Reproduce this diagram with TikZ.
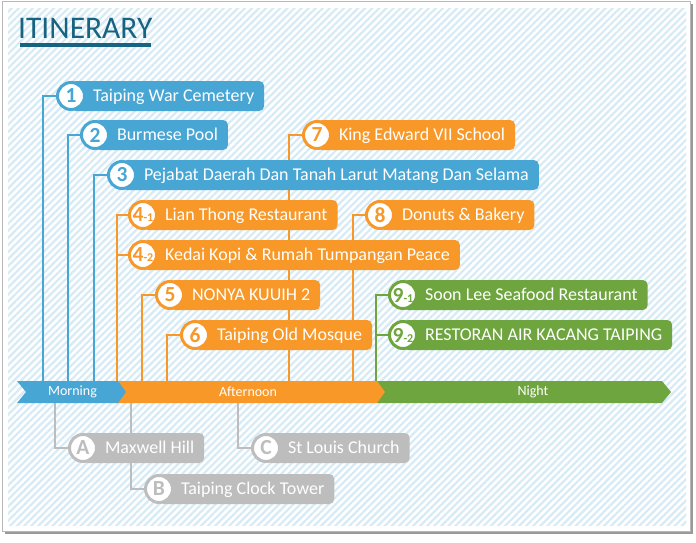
\documentclass[tikz,border=0pt]{standalone}
\usepackage{fontspec}
\setmainfont{Carlito}
\usetikzlibrary{patterns.meta}
\definecolor{cblue}{RGB}{72,166,213}
\definecolor{corange}{RGB}{247,152,41}
\definecolor{cgreen}{RGB}{110,165,62}
\definecolor{cgray}{RGB}{189,189,189}
\definecolor{ctitle}{RGB}{24,98,130}
\definecolor{chatch}{RGB}{214,235,246}
\pgfdeclarelayer{back}
\pgfdeclarelayer{links}
\pgfsetlayers{back,links,main}
\newcommand\mkitem[5]{%
  \node[itembox=#3] (b#1) at #2 {\hspace*{22pt}#5\hspace*{10pt}};
  \node[numcirc=#3] (c#1) at #2 {#4};
}
\newcommand\subn[2]{#1\fontsize{12}{12}\selectfont -#2}
\begin{document}
\begin{tikzpicture}[x=1pt,y=-1pt,
  itembox/.style={anchor=west, fill=#1, rounded corners=5pt, minimum height=30pt,
    inner xsep=0pt, inner ysep=0pt, outer sep=0pt, text=white,
    text height=14pt, text depth=3pt, font=\fontsize{18}{20}\selectfont},
  numcirc/.style={circle, fill=white, draw=#1, line width=3pt, minimum size=27pt,
    inner sep=0pt, text=#1, font=\fontsize{21.5}{21}\selectfont\bfseries},
  lk/.style={draw=#1, line width=2pt},
  tl/.style={text=white, font=\fontsize{14}{16}\selectfont, inner sep=0pt}]
\useasboundingbox (0,0) rectangle (696,543);
\begin{pgfonlayer}{back}
  \fill[black!40] (5,4.5) rectangle (693,534);
  \filldraw[fill=white,draw=black!28,line width=1pt] (2.5,1.5) rectangle (690.5,531.5);
  \fill[pattern={Lines[angle=45,distance=5pt,line width=2.2pt]},pattern color=chatch] (8,9) rectangle (686,525);
\end{pgfonlayer}

% title
\node[anchor=base west, inner sep=0pt, text=ctitle, font=\fontsize{31.5}{31}\selectfont] (title) at (18,39) {ITINERARY};
\draw[ctitle, line width=4pt] (20,45.5) -- (151,45.5);

% timeline
\fill[cgreen] (377,381) -- (662,381) -- (671,392) -- (662,403) -- (377,403) -- cycle;
\fill[corange] (117,381) -- (377,381) -- (385,392) -- (377,403) -- (117,403) -- cycle;
\fill[cblue] (17,381) -- (118,381) -- (126,392) -- (118,403) -- (17,403) -- (26,392) -- cycle;
\node[tl] (morning) at (72.5,392) {Morning};
\node[tl] (afternoon) at (248,392) {Afternoon};
\node[tl] (night) at (533,392) {Night};

% timeline anchor points
\coordinate (m1) at (43,381);
\coordinate (m2) at (68,381);
\coordinate (m3) at (94,381);
\coordinate (a4) at (117,381);
\coordinate (a5) at (142,381);
\coordinate (a6) at (167,381);
\coordinate (a7) at (289,381);
\coordinate (a8) at (353,381);
\coordinate (n9) at (376,381);
\coordinate (gA) at (55,403);
\coordinate (gB) at (131,403);
\coordinate (gC) at (238,403);

% items
\mkitem{1}{(71,96)}{cblue}{1}{Taiping War Cemetery}
\mkitem{2}{(95,135)}{cblue}{2}{Burmese Pool}
\mkitem{7}{(317,135)}{corange}{7}{King Edward VII School}
\mkitem{3}{(122,175)}{cblue}{3}{Pejabat Daerah Dan Tanah Larut Matang Dan Selama}
\mkitem{41}{(143,215)}{corange}{\subn{4}{1}}{Lian Thong Restaurant}
\mkitem{8}{(380,215)}{corange}{8}{Donuts \& Bakery}
\mkitem{42}{(143,255)}{corange}{\subn{4}{2}}{Kedai Kopi \& Rumah Tumpangan Peace}
\mkitem{5}{(170,295)}{corange}{5}{NONYA KUUIH 2}
\mkitem{91}{(403,295)}{cgreen}{\subn{9}{1}}{Soon Lee Seafood Restaurant}
\mkitem{6}{(195,335)}{corange}{6}{Taiping Old Mosque}
\mkitem{92}{(403,335)}{cgreen}{\subn{9}{2}}{RESTORAN AIR KACANG TAIPING}
\mkitem{A}{(83,448)}{cgray}{A}{Maxwell Hill}
\mkitem{C}{(266,448)}{cgray}{C}{St Louis Church}
\mkitem{B}{(159,489)}{cgray}{B}{Taiping Clock Tower}

% connectors
\begin{pgfonlayer}{links}
  \draw[lk=cblue] (m1) |- (c1.west);
  \draw[lk=cblue] (m2) |- (c2.west);
  \draw[lk=cblue] (m3) |- (c3.west);
  \draw[lk=corange] (a4) |- (c41.west);
  \draw[lk=corange] (a4) |- (c42.west);
  \draw[lk=corange] (a5) |- (c5.west);
  \draw[lk=corange] (a6) |- (c6.west);
  \draw[lk=corange] (a7) |- (c7.west);
  \draw[lk=corange] (a8) |- (c8.west);
  \draw[lk=cgreen] (n9) |- (c91.west);
  \draw[lk=cgreen] (n9) |- (c92.west);
  \draw[lk=cgray] (gA) |- (cA.west);
  \draw[lk=cgray] (gB) |- (cB.west);
  \draw[lk=cgray] (gC) |- (cC.west);
\end{pgfonlayer}
\end{tikzpicture}
\end{document}
